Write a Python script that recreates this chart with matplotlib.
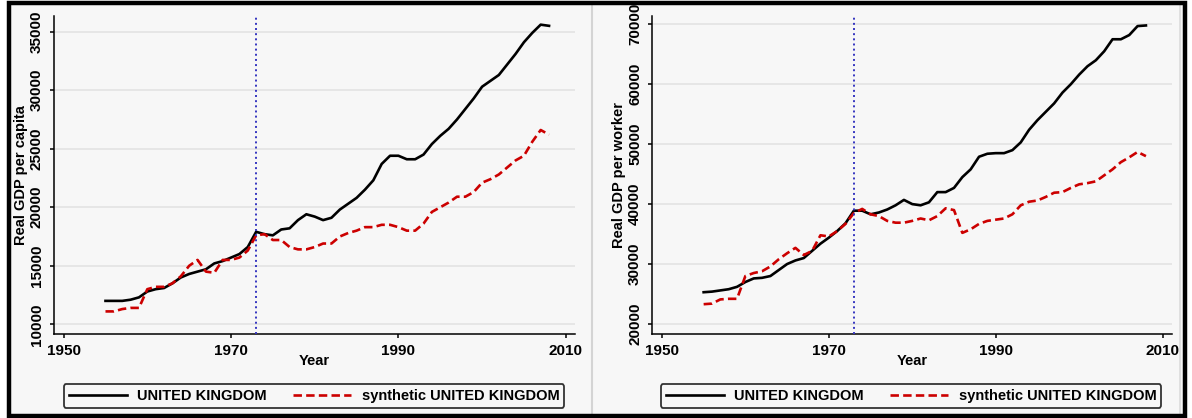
import matplotlib
matplotlib.use("Agg")
import matplotlib.pyplot as plt
from matplotlib.patches import Rectangle
from matplotlib.lines import Line2D

plt.rcParams['font.family'] = ['Liberation Sans', 'DejaVu Sans']
plt.rcParams['font.weight'] = 'bold'

years = list(range(1955, 2009))

# Real GDP per capita
uk_capita = [12000, 12000, 12000, 12100, 12300, 12800, 13000, 13100, 13500, 14000,
             14300, 14500, 14700, 15200, 15400, 15700, 16000, 16600, 17900, 17700,
             17600, 18100, 18200, 18900, 19400, 19200, 18900, 19100, 19800, 20300,
             20800, 21500, 22300, 23700, 24400, 24400, 24100, 24100, 24500, 25400,
             26100, 26700, 27500, 28400, 29300, 30300, 30800, 31300, 32200, 33100,
             34100, 34900, 35600, 35500]
synth_capita = [11100, 11100, 11300, 11400, 11400, 13000, 13200, 13200, 13500, 14100,
                15000, 15500, 14500, 14400, 15500, 15500, 15700, 16300, 17600, 17700,
                17200, 17200, 16600, 16400, 16400, 16600, 16900, 16900, 17500, 17800,
                18000, 18300, 18300, 18500, 18500, 18300, 18000, 18000, 18600, 19600,
                20000, 20400, 20900, 20900, 21300, 22100, 22400, 22800, 23400, 24000,
                24400, 25600, 26600, 26200]

# Real GDP per worker
uk_worker = [25300, 25400, 25600, 25800, 26200, 27000, 27600, 27700, 28000, 29000,
             30000, 30600, 31000, 32200, 33400, 34400, 35500, 36800, 38900, 38900,
             38300, 38600, 39100, 39800, 40700, 40000, 39800, 40300, 42000, 42000,
             42700, 44500, 45800, 47900, 48400, 48500, 48500, 49000, 50300, 52400,
             54000, 55400, 56800, 58600, 60000, 61600, 63000, 64000, 65500, 67500,
             67500, 68200, 69700, 69800]
synth_worker = [23300, 23400, 24100, 24200, 24200, 28000, 28500, 28800, 29600, 30800,
                31800, 32700, 31500, 32200, 34800, 34600, 35500, 36700, 38500, 39200,
                38300, 38000, 37200, 36900, 36900, 37200, 37600, 37300, 38000, 39300,
                39000, 35200, 35800, 36700, 37200, 37400, 37600, 38300, 39800, 40400,
                40600, 41200, 41900, 42000, 42700, 43300, 43500, 43800, 44800, 45800,
                47000, 47800, 48700, 48000]

treat_year = 1973
xticks = [1950, 1970, 1990, 2010]

W, H = 1192, 418
fig = plt.figure(figsize=(W / 100, H / 100), dpi=100)
fig.patch.set_facecolor('white')

def fx(x):
    return x / W

def fy(y):
    return 1 - y / H

bg = '#f7f7f7'
# panel background, separators and outer frame
fig.add_artist(Rectangle((fx(11), fy(416)), fx(1183) - fx(11), fy(5) - fy(416),
                         transform=fig.transFigure, facecolor=bg, edgecolor='none', zorder=-10))
fig.add_artist(Line2D([fx(592), fx(592)], [fy(5), fy(416)], transform=fig.transFigure,
                      color='#d4d4d4', lw=1.5, zorder=-5))
fig.add_artist(Line2D([fx(1180), fx(1180)], [fy(5), fy(416)], transform=fig.transFigure,
                      color='#dcdcdc', lw=1.2, zorder=-5))
fig.add_artist(Rectangle((fx(9), fy(416)), fx(1185) - fx(9), fy(2.5) - fy(416),
                         transform=fig.transFigure, facecolor='none', edgecolor='black',
                         lw=3.2, zorder=20))

panels = [
    dict(rect=[fx(53.6), fy(334), fx(575) - fx(53.6), fy(16) - fy(334)],
         uk=uk_capita, syn=synth_capita, ylim=(9170, 36340),
         yticks=[10000, 15000, 20000, 25000, 30000, 35000],
         ylabel='Real GDP per capita', legx=fx(314)),
    dict(rect=[fx(651.9), fy(334), fx(1171.8) - fx(651.9), fy(16) - fy(334)],
         uk=uk_worker, syn=synth_worker, ylim=(18330, 71380),
         yticks=[20000, 30000, 40000, 50000, 60000, 70000],
         ylabel='Real GDP per worker', legx=fx(911)),
]

for p in panels:
    ax = fig.add_axes(p['rect'])
    ax.patch.set_alpha(0)
    for yv in p['yticks']:
        ax.axhline(yv, color='#e3e3e3', lw=1.2, zorder=0)
    l1, = ax.plot(years, p['uk'], color='black', lw=1.9,
                  label='UNITED KINGDOM', zorder=3)
    l2, = ax.plot(years, p['syn'], color='#cc0000', lw=1.9, ls=(0, (3.2, 1.6)),
                  label='synthetic UNITED KINGDOM', zorder=4)
    ax.axvline(treat_year, color='#3535c0', ls=':', lw=1.4, zorder=5)
    ax.set_xlim(1948.8, 2011.1)
    ax.set_ylim(*p['ylim'])
    ax.set_xticks(xticks)
    ax.set_yticks(p['yticks'])
    for s in ['top', 'right']:
        ax.spines[s].set_visible(False)
    for s in ['left', 'bottom']:
        ax.spines[s].set_linewidth(1.1)
    ax.tick_params(direction='out', length=3, width=1.1, labelsize=11, pad=4)
    for lab in ax.get_yticklabels():
        lab.set_rotation(90)
        lab.set_va('center')
        lab.set_fontweight('bold')
    for lab in ax.get_xticklabels():
        lab.set_fontweight('bold')
    ax.set_xlabel('Year', fontsize=10.5, fontweight='bold', labelpad=-3)
    ax.set_ylabel(p['ylabel'], fontsize=10.5, fontweight='bold', labelpad=1.5)

    leg = fig.legend(handles=[l1, l2], loc='center',
                     bbox_to_anchor=(p['legx'], fy(396)),
                     ncol=2, frameon=True, fancybox=True,
                     handlelength=4.0, handletextpad=0.7, columnspacing=1.8,
                     borderpad=0.35, prop={'weight': 'bold', 'size': 10.5})
    leg.get_frame().set_edgecolor('#333333')
    leg.get_frame().set_linewidth(1.3)
    leg.get_frame().set_facecolor(bg)
    leg.get_frame().set_alpha(1)

fig.savefig('out.png', dpi=100, facecolor='white')
